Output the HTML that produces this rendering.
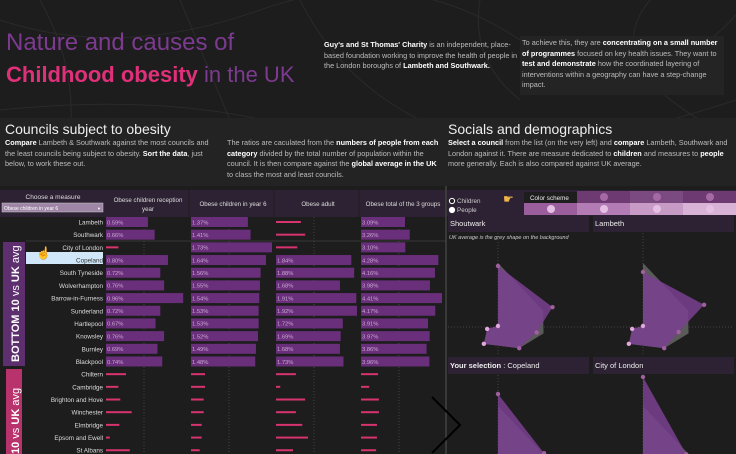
<!DOCTYPE html>
<html><head><meta charset="utf-8"><style>
body{margin:0;width:736px;height:454px;overflow:hidden;background:#1d1d1d;font-family:"Liberation Sans",sans-serif;color:#cfcfcf;position:relative}
.a{position:absolute}
b{color:#fff}
.t{font-size:7.3px;line-height:10.5px;color:#bdbdbd}
svg{overflow:hidden}
</style></head><body>
<svg class="a" style="left:0;top:0" width="736" height="454">
<g stroke="#2a2a2a" stroke-width="1" fill="none">
<path d="M0 20 Q120 60 260 10 T520 40 T736 15"/><path d="M40 0 Q90 90 60 180"/><path d="M300 0 Q340 80 420 120 T600 180"/><path d="M0 110 Q200 90 330 140 T736 100"/><path d="M650 0 Q600 60 700 120"/><path d="M180 0 L230 120"/><path d="M480 0 Q470 60 520 100"/>
</g></svg>
<div class="a" style="left:6px;top:29px;font-size:24px;color:#7c3a90;font-weight:300">Nature and causes of</div>
<div class="a" style="left:6px;top:62px;font-size:22px;color:#7c3a90"><span style="color:#e0307a;font-weight:bold">Childhood obesity</span> in the UK</div>
<div class="a t" style="left:324px;top:40px;width:195px"><b>Guy's and St Thomas' Charity</b> is an independent, place-based foundation working to improve the health of people in the London boroughs of <b>Lambeth and Southwark.</b></div>
<div class="a t" style="left:520px;top:36px;width:200px;background:#242424;padding:2px 2px 4px 2px">To achieve this, they are <b>concentrating on a small number of programmes</b> focused on key health issues. They want to <b>test and demonstrate</b> how the coordinated layering of interventions within a geography can have a step-change impact.</div>
<div class="a" style="left:0;top:118px;width:446px;height:68px;background:#232323"></div>
<div class="a" style="left:446px;top:118px;width:290px;height:68px;background:#232323"></div>
<div class="a" style="left:5px;top:121px;font-size:14px;color:#eee">Councils subject to obesity</div>
<div class="a t" style="left:5px;top:138px;width:215px"><b>Compare</b> Lambeth &amp; Southwark against the most councils and the least councils being subject to obesity. <b>Sort the data</b>, just below, to work these out.</div>
<div class="a t" style="left:227px;top:138px;width:215px">The ratios are caculated from the <b>numbers of people from each category</b> divided by the total number of population within the council. It is then compare against the <b>global average in the UK</b> to class the most and least councils.</div>
<div class="a" style="left:448px;top:121px;font-size:14px;color:#eee">Socials and demographics</div>
<div class="a t" style="left:448px;top:138px;width:285px"><b>Select a council</b> from the list (on the very left) and <b>compare</b> Lambeth, Southwark and London against it. There are measure dedicated to <b>children</b> and measures to <b>people</b> more generally. Each is also compared against UK average.</div>

<svg class="a" id="tbl" style="left:0;top:0" width="446" height="454"></svg>
<svg class="a" id="rad" style="left:0;top:0" width="736" height="454"></svg>

<script>
const councils=["Lambeth","Southwark","City of London","Copeland","South Tyneside","Wolverhampton","Barrow-in-Furness","Sunderland","Hartlepool","Knowsley","Burnley","Blackpool","Chiltern","Cambridge","Brighton and Hove","Winchester","Elmbridge","Epsom and Ewell","St Albans"];
const reception=[0.59,0.66,0.28,0.80,0.72,0.76,0.96,0.72,0.67,0.76,0.69,0.74,0.36,0.28,0.30,0.42,0.29,0.19,0.40];
const year6=[1.37,1.41,1.73,1.64,1.56,1.55,1.54,1.53,1.53,1.52,1.49,1.48,0.73,0.73,0.71,0.71,0.68,0.68,0.65];
const adult=[1.13,1.19,1.08,1.84,1.88,1.68,1.91,1.92,1.72,1.69,1.68,1.73,1.06,0.84,1.19,1.06,1.15,1.23,1.02];
const total=[3.09,3.26,3.10,4.28,4.16,3.98,4.41,4.17,3.91,3.97,3.86,3.96,2.13,1.81,2.16,2.16,2.09,2.09,2.06];
const headers=[["Obese children reception","year"],["Obese children in year 6"],["Obese adult"],["Obese total of the 3 groups"]];
const angles=[-90,-20,8,45,130,170,-92];
const ukAvg=[64,48,46,30,22,11,1];
const southwark=[61,58,39,30,22,11,1];
const lambeth=[55,65,36,30,22,11,1];
const copeland=[76,49,40,30,22,11,1];
const cityLondon=[93,46,38,30,22,11,1];
const NS="http://www.w3.org/2000/svg";
function mk(p,t,a){const e=document.createElementNS(NS,t);for(const k in a)e.setAttribute(k,a[k]);p.appendChild(e);return e;}
const T=document.getElementById('tbl');
const hb=mk(T,'rect',{x:0,y:190,width:446,height:27,fill:'#2d2233'});


const ct=mk(T,'text',{x:53,y:199,'font-size':6.5,fill:'#ddd','text-anchor':'middle'});ct.textContent="Choose a measure";


const dd=mk(T,'rect',{x:2,y:203,width:101,height:9,fill:'#9f86a6',stroke:'#ccc','stroke-width':0.5});


mk(T,'text',{x:4,y:210,'font-size':5,fill:'#fff'}).textContent="Obese children in year 6";
mk(T,'text',{x:97,y:210,'font-size':4,fill:'#fff'}).textContent="▼";
const colX=[106,191,276,361];
const doms=[[0.15,1.0],[0.52,1.73],[0.78,1.92],[1.52,4.41]];
const series=[reception,year6,adult,total];
function sx(c,v){return colX[c]+(v-doms[c][0])/(doms[c][1]-doms[c][0])*81;}
function ry(i){return 222+i*12.68;}
headers.forEach((h,c)=>{
 if(c>0)mk(T,'line',{x1:colX[c]-2,y1:190,x2:colX[c]-2,y2:217,stroke:'#1d1d1d'});
 h.forEach((l,j)=>{const e=mk(T,'text',{x:colX[c]+42,y:(h.length>1?202+j*9:206),'font-size':6.2,fill:'#ddd','text-anchor':'middle'});e.textContent=l;
 
 });
 mk(T,'line',{x1:colX[c]+38,y1:217,x2:colX[c]+38,y2:454,stroke:'#444','stroke-dasharray':'1,2'});
});
const bb=mk(T,'rect',{x:3,y:242,width:22,height:124,fill:'#5d2f6e'});


const bt=mk(T,'text',{transform:'translate(19,362) rotate(-90)','font-size':11,fill:'#fff'});bt.innerHTML='<tspan font-weight="bold">BOTTOM 10</tspan> vs <tspan font-weight="bold">UK</tspan> avg';
const pb=mk(T,'rect',{x:6,y:369,width:16,height:85,fill:'#b8336b'});


const ptx=mk(T,'text',{transform:'translate(19,454) rotate(-90)','font-size':11,fill:'#fff'});ptx.innerHTML='<tspan font-weight="bold">10</tspan> vs <tspan font-weight="bold">UK</tspan> avg';
mk(T,'line',{x1:26,y1:241,x2:446,y2:241,stroke:'#555','stroke-width':0.6});
const hl=mk(T,'rect',{x:26,y:252,width:77,height:12,fill:'#cfe7f8'});


councils.forEach((n,i)=>{
 const y=ry(i);
 const lt=mk(T,'text',{x:103,y:y+2.5,'font-size':6.3,fill:i==3?'#333':'#ddd','text-anchor':'end'});lt.textContent=n;
 
 
 series.forEach((s,c)=>{
  const v=s[i];const w=sx(c,v)-colX[c];
  const big=(c==0&&i<12&&i!=2)||(c==1&&i<12)||(c==2&&i>=3&&i<12)||(c==3&&i<12);
  if(big){
   const r=mk(T,'rect',{x:colX[c],y:y-5,width:w,height:10,fill:'#6a2f7b'});
   
   
   mk(T,'text',{x:colX[c]+1,y:y+2.3,'font-size':5.8,fill:'#c9a7d2'}).textContent=v.toFixed(2)+"%";
  }else{
   const r=mk(T,'rect',{x:colX[c],y:y-1,width:Math.max(w,3),height:2,fill:'#d6336f'});
   
   
  }
 });
});
mk(T,'text',{x:36,y:257,'font-size':12,fill:'#f0b34a'}).textContent="☝";
const R=document.getElementById('rad');
mk(R,'line',{x1:446,y1:186,x2:446,y2:454,stroke:'#555'});
mk(R,'rect',{x:447,y:190,width:289,height:26,fill:'#2d2233'});
[['Children',203],['People',212]].forEach((o,j)=>{mk(R,'circle',{cx:452,cy:o[1]-2,r:2.6,fill:j?'#fff':'#222',stroke:'#fff','stroke-width':1});
 const e=mk(R,'text',{x:457,y:o[1],'font-size':6.3,fill:'#ccc'});e.textContent=o[0];
 
 });
mk(R,'text',{x:503,y:203,'font-size':12,fill:'#f0b34a'}).textContent="☛";
mk(R,'rect',{x:524,y:192,width:53,height:11,fill:'#1d1d1d'});
mk(R,'text',{x:530,y:200,'font-size':6.3,fill:'#eee'}).textContent="Color scheme";
const sw1=['#6d3a72','#7a4a80','#6d3a72'],sw2=['#9a5e9c','#b37cb4','#c79bc6','#d8b3d6'];
sw1.forEach((c,j)=>{mk(R,'rect',{x:577+j*53,y:191,width:53,height:12,fill:c});mk(R,'circle',{cx:604+j*53,cy:197,r:4,fill:'#a56aa6'});});
sw2.forEach((c,j)=>{const e=mk(R,'rect',{x:524+j*53,y:203,width:53,height:12,fill:c});mk(R,'circle',{cx:551+j*53,cy:209,r:4,fill:'#e6c0e4'});
 
 });
const panels=[["Shoutwark",447,215,498,327,southwark],["Lambeth",592,215,643,327,lambeth],["Your selection : Copeland",447,357,498,470,copeland],["City of London",592,357,643,470,cityLondon]];
function polar(cx,cy,k,r){const a=angles[k]*Math.PI/180;return [cx+r*Math.cos(a),cy+r*Math.sin(a)];}
panels.forEach(p=>{
 const [name,x,y,cx,cy,vals]=p;
 mk(R,'rect',{x:x+1,y:y,width:141,height:17,fill:'#2d2233'});
 const ht=mk(R,'text',{x:x+3,y:y+11,'font-size':7.5,fill:'#eee'});
 if(name.startsWith('Your'))ht.innerHTML='<tspan font-weight="bold">Your selection</tspan> : Copeland';else ht.textContent=name;
 
 
 mk(R,'line',{x1:cx,y1:y+18,x2:cx,y2:Math.min(y+140,454),stroke:'#444','stroke-dasharray':'1,2'});
 mk(R,'line',{x1:x+1,y1:cy,x2:x+142,y2:cy,stroke:'#444','stroke-dasharray':'1,2'});
 const g=mk(R,'polygon',{points:ukAvg.map((v,k)=>polar(cx,cy,k,v).join(',')).join(' '),fill:'#5a5a5a'});
 
 
 const pts=vals.map((v,k)=>polar(cx,cy,k,v));
 const s=mk(R,'polygon',{points:pts.map(q=>q.join(',')).join(' '),fill:'#7a3f90','fill-opacity':0.85});
 
 
 pts.forEach((q,k)=>{const c=mk(R,'circle',{cx:q[0],cy:q[1],r:2.2,fill:k>=4?'#e0a8dc':'#a0609f'});
  
  });
});
mk(R,'text',{x:449,y:239,'font-size':5.5,fill:'#ccc','font-style':'italic'}).textContent="UK average is the grey shape on the background";
mk(R,'rect',{x:590,y:216,width:2,height:238,fill:'#1d1d1d'});
mk(R,'polyline',{points:'432,397 460,425 432,453',fill:'none',stroke:'#000','stroke-width':2});
</script>
</body></html>
